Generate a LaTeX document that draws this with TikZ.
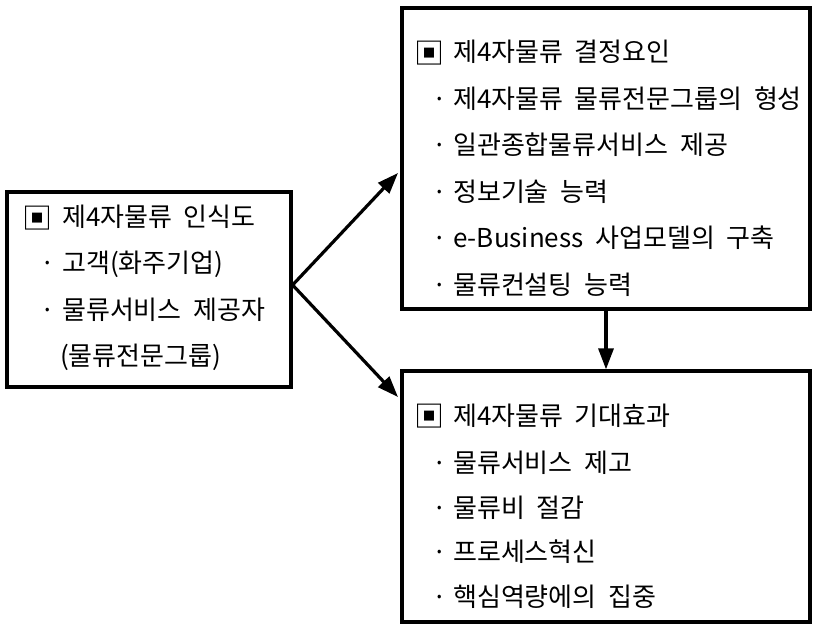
\documentclass[tikz,border=0pt]{standalone}
\usepackage{fontspec}
\setmainfont[WordSpace=2]{Noto Sans CJK KR}
\usetikzlibrary{arrows.meta}
\begin{document}
\begin{tikzpicture}[x=1pt,y=1pt,
  frame/.style={draw,line width=3.2pt,inner sep=0pt},
  txt/.style={anchor=west,inner sep=0pt,text height=21.5pt,text depth=3.5pt,font=\fontsize{26}{30}\selectfont},
  bul/.style={txt,anchor=center},
  sqmark/.style={anchor=west,inner sep=0pt,font=\fontsize{30}{34}\selectfont},
  arr/.style={line width=3.2pt,-{Triangle[length=21pt,width=15pt]}}]
\useasboundingbox (0,0) rectangle (813,624);
% boxes
\node[frame,minimum width=284pt,minimum height=195pt] (L) at (149,334.5) {};
\node[frame,minimum width=408pt,minimum height=301pt] (TR) at (606,465.5) {};
\node[frame,minimum width=408pt,minimum height=251pt] (BR) at (606,127.5) {};
% left box text
\node[sqmark] (l0m) at (22,406) {▣};
\node[txt] (l0) at (62,406) {제4자물류 인식도};
\node[bul] (l1b) at (48,360) {·};
\node[txt] (l1) at (62,360) {고객(화주기업)};
\node[bul] (l2b) at (48,313.5) {·};
\node[txt] (l2) at (62,313.5) {물류서비스 제공자};
\node[txt] (l3) at (60,267) {(물류전문그룹)};
% top right text
\node[sqmark] (t0m) at (414,571) {▣};
\node[txt] (t0) at (453,571) {제4자물류 결정요인};
\node[bul] (t1b) at (440,524.5) {·};
\node[txt] (t1) at (453,524.5) {제4자물류 물류전문그룹의 형성};
\node[bul] (t2b) at (440,478) {·};
\node[txt] (t2) at (453,478) {일관종합물류서비스 제공};
\node[bul] (t3b) at (440,431.5) {·};
\node[txt] (t3) at (453,431.5) {정보기술 능력};
\node[bul] (t4b) at (440,385) {·};
\node[txt] (t4) at (453,385) {e-Business 사업모델의 구축};
\node[bul] (t5b) at (440,338.5) {·};
\node[txt] (t5) at (453,338.5) {물류컨설팅 능력};
% bottom right text
\node[sqmark] (b0m) at (414,208) {▣};
\node[txt] (b0) at (453,208) {제4자물류 기대효과};
\node[bul] (b1b) at (440,160.5) {·};
\node[txt] (b1) at (453,160.5) {물류서비스 제고};
\node[bul] (b2b) at (440,116) {·};
\node[txt] (b2) at (453,116) {물류비 절감};
\node[bul] (b3b) at (440,71.5) {·};
\node[txt] (b3) at (453,71.5) {프로세스혁신};
\node[bul] (b4b) at (440,26.5) {·};
\node[txt] (b4) at (453,26.5) {핵심역량에의 집중};
% connectors
\coordinate (s) at ([yshift=4.5pt]L.east);
\coordinate (e1) at (398,451);
\coordinate (e2) at (398,227);
\draw[arr] (s) -- (e1);
\draw[arr] (s) -- (e2);
\draw[arr] (TR.south) -- (BR.north);
\end{tikzpicture}
\end{document}
